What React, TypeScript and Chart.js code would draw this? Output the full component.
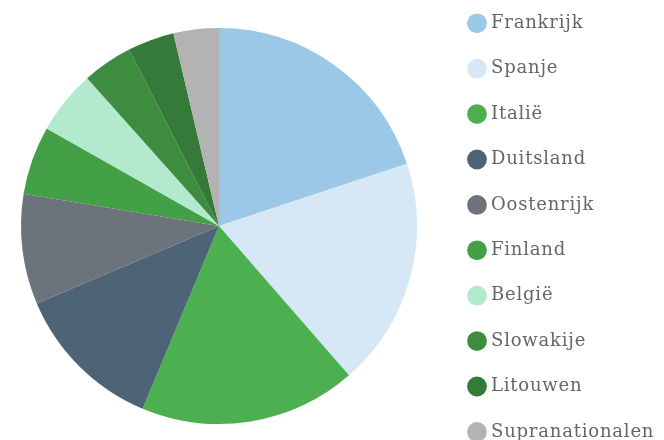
import React, { useEffect, useRef } from "react";
import { Chart, registerables } from "chart.js";

Chart.register(...registerables);

const labels = [
  "Frankrijk",
  "Spanje",
  "Italië",
  "Duitsland",
  "Oostenrijk",
  "Finland",
  "België",
  "Slowakije",
  "Litouwen",
  "Supranationalen",
];
const values = [19.9, 18.7, 17.7, 12.3, 9.0, 5.6, 5.2, 4.1, 3.8, 3.7];
const colors = [
  "#9AC8E6",
  "#D6E8F6",
  "#4CAF50",
  "#4C6475",
  "#6C737B",
  "#43A047",
  "#B3E9CD",
  "#3D8C40",
  "#357A38",
  "#B3B3B3",
];

const legendTweak = {
  id: "legendTweak",
  afterLayout(chart: any) {
    const l = chart.legend;
    if (l) {
      l.right = chart.width;
      l.width = chart.width - l.left;
    }
  },
  beforeDraw(chart: any) {
    (chart.ctx as any).letterSpacing = "0.8px";
  },
  afterDraw(chart: any) {
    (chart.ctx as any).letterSpacing = "0px";
  },
};

export default function App() {
  const ref = useRef<HTMLCanvasElement>(null);
  useEffect(() => {
    document.body.style.margin = "0";
    const chart = new Chart(ref.current!, {
      type: "pie",
      data: {
        labels,
        datasets: [
          {
            data: values,
            backgroundColor: colors,
            borderWidth: 0,
            hoverOffset: 0,
          },
        ],
      },
      options: {
        animation: false,
        responsive: true,
        maintainAspectRatio: false,
        radius: 198,
        layout: { padding: { left: 3.4, right: 69.4, top: 6.9, bottom: 3.1 } },
        plugins: {
          legend: {
            position: "right",
            align: "start",
            maxWidth: 150,
            labels: {
              usePointStyle: true,
              pointStyle: "circle",
              boxWidth: 10,
              boxHeight: 14,
              padding: 27.4,
              color: "#666",
              font: { family: "DejaVu Serif", size: 18 },
            },
          },
          title: {
            display: true,
            text: "",
            position: "bottom",
            fullSize: false,
            padding: { top: 1.8, bottom: 0 },
            font: { size: 10, lineHeight: 1 },
          },
          tooltip: { enabled: false },
        },
      } as any,
      plugins: [legendTweak],
    });
    return () => chart.destroy();
  }, []);
  return (
    <div style={{ width: 664, height: 440, overflow: "hidden", position: "relative" }}>
      <div style={{ position: "absolute", left: -10, top: -20, width: 674, height: 500 }}>
        <canvas ref={ref} />
      </div>
    </div>
  );
}
